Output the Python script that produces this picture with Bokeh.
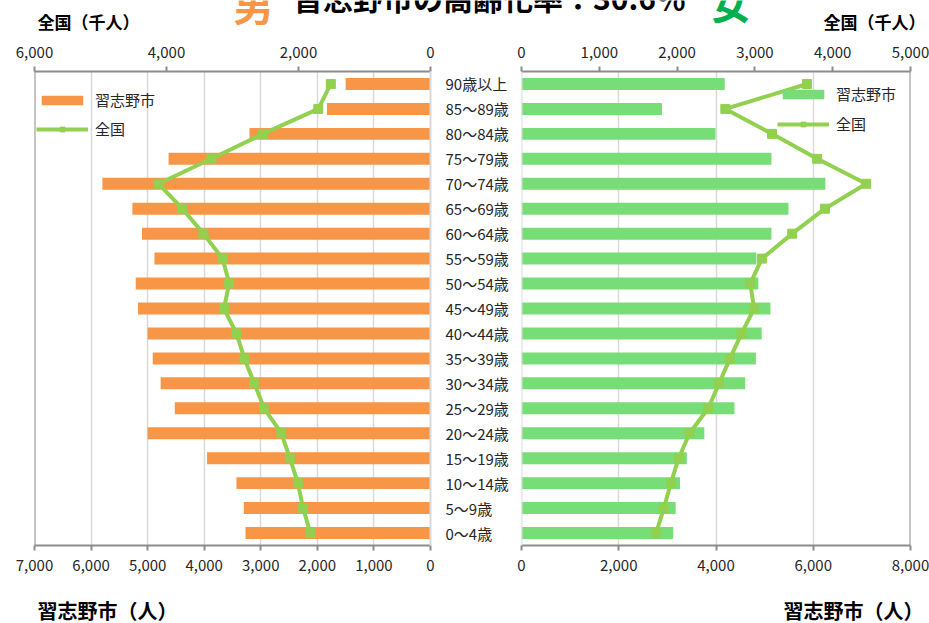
from bokeh.plotting import figure
from bokeh.models import (Range1d, FactorRange, LinearAxis, FixedTicker, NumeralTickFormatter,
                          Legend, LegendItem, Label, Span)
from bokeh.layouts import row, column
from bokeh.embed import file_html
from bokeh.resources import INLINE

# ---------------- data (bottom -> top) ----------------
ages = ["0～4歳", "5～9歳", "10～14歳", "15～19歳", "20～24歳", "25～29歳", "30～34歳",
        "35～39歳", "40～44歳", "45～49歳", "50～54歳", "55～59歳", "60～64歳", "65～69歳",
        "70～74歳", "75～79歳", "80～84歳", "85～89歳", "90歳以上"]
male_city = [3270, 3300, 3430, 3950, 5000, 4520, 4770, 4910, 5000, 5170,
             5210, 4880, 5100, 5270, 5800, 4630, 3200, 1830, 1500]          # 人
male_nat = [1820, 1930, 2010, 2130, 2260, 2520, 2670, 2820, 2940, 3130,
            3050, 3150, 3440, 3760, 4120, 3320, 2540, 1700, 1510]           # 千人
female_city = [3120, 3170, 3260, 3400, 3760, 4380, 4600, 4820, 4940, 5120,
               4870, 4830, 5140, 5490, 6250, 5140, 3990, 2890, 4180]        # 人
female_nat = [1730, 1830, 1920, 2020, 2160, 2400, 2540, 2680, 2830, 2990,
              2940, 3090, 3480, 3900, 4430, 3800, 3220, 2620, 3670]         # 千人

left_city_ticks = [0, 1000, 2000, 3000, 4000, 5000, 6000, 7000]
left_nat_ticks = [0, 2000, 4000, 6000]
right_city_ticks = [0, 2000, 4000, 6000, 8000]
right_nat_ticks = [0, 1000, 2000, 3000, 4000, 5000]

title_text = "習志野市の高齢化率：30.6％"
nat_label = "全国（千人）"
city_label = "習志野市（人）"
legend_city = "習志野市"
legend_nat = "全国"

FONT = "Noto Sans CJK JP"
ORANGE = "#F79646"
GREEN_BAR = "#77DD77"
GREEN_LINE = "#92D050"
GREEN_TXT = "#00B050"
AXIS_GRAY = "#8C8C8C"
GRID_GRAY = "#D9D9D9"
TXT = "#262626"

W, H = 929, 623
TOP_H, BOT_H = 36, 33
MID_H = H - TOP_H - BOT_H

y_range = FactorRange(factors=ages)


def style_axis(ax, ticks):
    ax.ticker = FixedTicker(ticks=ticks)
    ax.formatter = NumeralTickFormatter(format="0,0")
    ax.axis_line_color = AXIS_GRAY
    ax.axis_line_width = 2
    ax.major_tick_line_color = AXIS_GRAY
    ax.major_tick_line_width = 2
    ax.major_tick_out = 5
    ax.major_tick_in = 0
    ax.minor_tick_line_color = None
    ax.major_label_text_font = FONT
    ax.major_label_text_font_size = "15px"
    ax.major_label_text_color = TXT
    ax.major_label_standoff = 9


def make_fig(width, xr, mbl, mbr, yloc):
    p = figure(width=width, height=MID_H, x_range=xr, y_range=y_range, y_axis_location=yloc,
               output_backend="svg", toolbar_location=None,
               min_border_left=mbl, min_border_right=mbr, min_border_top=71 - TOP_H,
               min_border_bottom=MID_H + TOP_H - 545)
    p.outline_line_color = None
    p.ygrid.grid_line_color = None
    p.xgrid.grid_line_color = GRID_GRAY
    p.xgrid.grid_line_width = 1.5
    return p


def make_legend(items, loc, spacing):
    return Legend(items=items, location=loc, orientation="vertical",
                  background_fill_alpha=0, border_line_color=None,
                  glyph_width=52, glyph_height=12, label_height=20, spacing=spacing,
                  padding=4, margin=0, label_standoff=7,
                  label_text_font=FONT, label_text_font_size="15px", label_text_color=TXT)


def text_fig(height, y0):
    p = figure(width=W, height=height, x_range=Range1d(0, W), y_range=Range1d(y0 + height, y0),
               x_axis_location=None, y_axis_location=None, output_backend="svg",
               toolbar_location=None, min_border=0)
    p.outline_line_color = None
    p.xgrid.grid_line_color = None
    p.ygrid.grid_line_color = None
    return p


# ---------------- left (男) ----------------
left = make_fig(515, Range1d(7000, 0), 34, 85, "right")
left.extra_x_ranges = {"nat": Range1d(6000, 0)}
style_axis(left.xaxis[0], left_city_ticks)
left.xgrid.ticker = FixedTicker(ticks=left_city_ticks[1:-1])
top_l = LinearAxis(x_range_name="nat")
style_axis(top_l, left_nat_ticks)
left.add_layout(top_l, "above")

yax = left.yaxis[0]
yax.axis_line_color = GRID_GRAY
yax.axis_line_width = 2
yax.major_tick_line_color = None
yax.major_tick_out = 0
yax.major_tick_in = 0
yax.major_label_standoff = 15
yax.major_label_text_font = FONT
yax.major_label_text_font_size = "15px"
yax.major_label_text_color = TXT

left.add_layout(Span(location=7000, dimension="height", line_color=AXIS_GRAY, line_width=2))

bars_l = left.hbar(y=ages, right=male_city, left=0, height=0.48, fill_color=ORANGE, line_color=None)
line_l = left.line(x=male_nat, y=ages, x_range_name="nat", line_color=GREEN_LINE, line_width=4)
pts_l = left.scatter(x=male_nat, y=ages, x_range_name="nat", marker="square", size=9,
                     fill_color=GREEN_LINE, line_color=GREEN_LINE)
left.add_layout(make_legend([LegendItem(label=legend_city, renderers=[bars_l]),
                             LegendItem(label=legend_nat, renderers=[line_l, pts_l])], (2, 406), 8))

# ---------------- right (女) ----------------
right = make_fig(W - 515, Range1d(0, 8000), 6, 19, None)
right.extra_x_ranges = {"nat": Range1d(0, 5000)}
style_axis(right.xaxis[0], right_city_ticks)
right.xgrid.ticker = FixedTicker(ticks=right_city_ticks[1:-1])
top_r = LinearAxis(x_range_name="nat")
style_axis(top_r, right_nat_ticks)
right.add_layout(top_r, "above")

right.add_layout(Span(location=0, dimension="height", line_color=GRID_GRAY, line_width=2))
right.add_layout(Span(location=8000, dimension="height", line_color=AXIS_GRAY, line_width=2))

bars_r = right.hbar(y=ages, right=female_city, left=0, height=0.48, fill_color=GREEN_BAR, line_color=None)
line_r = right.line(x=female_nat, y=ages, x_range_name="nat", line_color=GREEN_LINE, line_width=4)
pts_r = right.scatter(x=female_nat, y=ages, x_range_name="nat", marker="square", size=9,
                      fill_color=GREEN_LINE, line_color=GREEN_LINE)
right.add_layout(make_legend([LegendItem(label=legend_city, renderers=[bars_r]),
                              LegendItem(label=legend_nat, renderers=[line_r, pts_r])], (256, 411), 9))

# ---------------- heading strip ----------------
top = text_fig(TOP_H, 0)
top.add_layout(Label(x=37, y=20.5, text=nat_label, text_font=FONT, text_font_size="17px",
                     text_font_style="bold", text_color="black", text_baseline="middle", text_align="left"))
top.add_layout(Label(x=925, y=20.5, text=nat_label, text_font=FONT, text_font_size="17px",
                     text_font_style="bold", text_color="black", text_baseline="middle", text_align="right"))
top.add_layout(Label(x=253, y=3, text="男", text_font=FONT, text_font_size="40px",
                     text_font_style="bold", text_color=ORANGE, text_baseline="middle", text_align="center"))
top.add_layout(Label(x=730, y=1.5, text="女", text_font=FONT, text_font_size="40px",
                     text_font_style="bold", text_color=GREEN_TXT, text_baseline="middle", text_align="center"))
top.add_layout(Label(x=489, y=-4, text=title_text, text_font=FONT, text_font_size="30px",
                     text_font_style="bold", text_color="black", text_baseline="middle", text_align="center"))

# ---------------- footer strip ----------------
bottom = text_fig(BOT_H, H - BOT_H)
bottom.add_layout(Label(x=37, y=610, text=city_label, text_font=FONT, text_font_size="20px",
                        text_font_style="bold", text_color="black", text_baseline="middle", text_align="left"))
bottom.add_layout(Label(x=923, y=610, text=city_label, text_font=FONT, text_font_size="20px",
                        text_font_style="bold", text_color="black", text_baseline="middle", text_align="right"))

layout = column(top, row(left, right), bottom)
open("out.html", "w").write(file_html(layout, INLINE))
